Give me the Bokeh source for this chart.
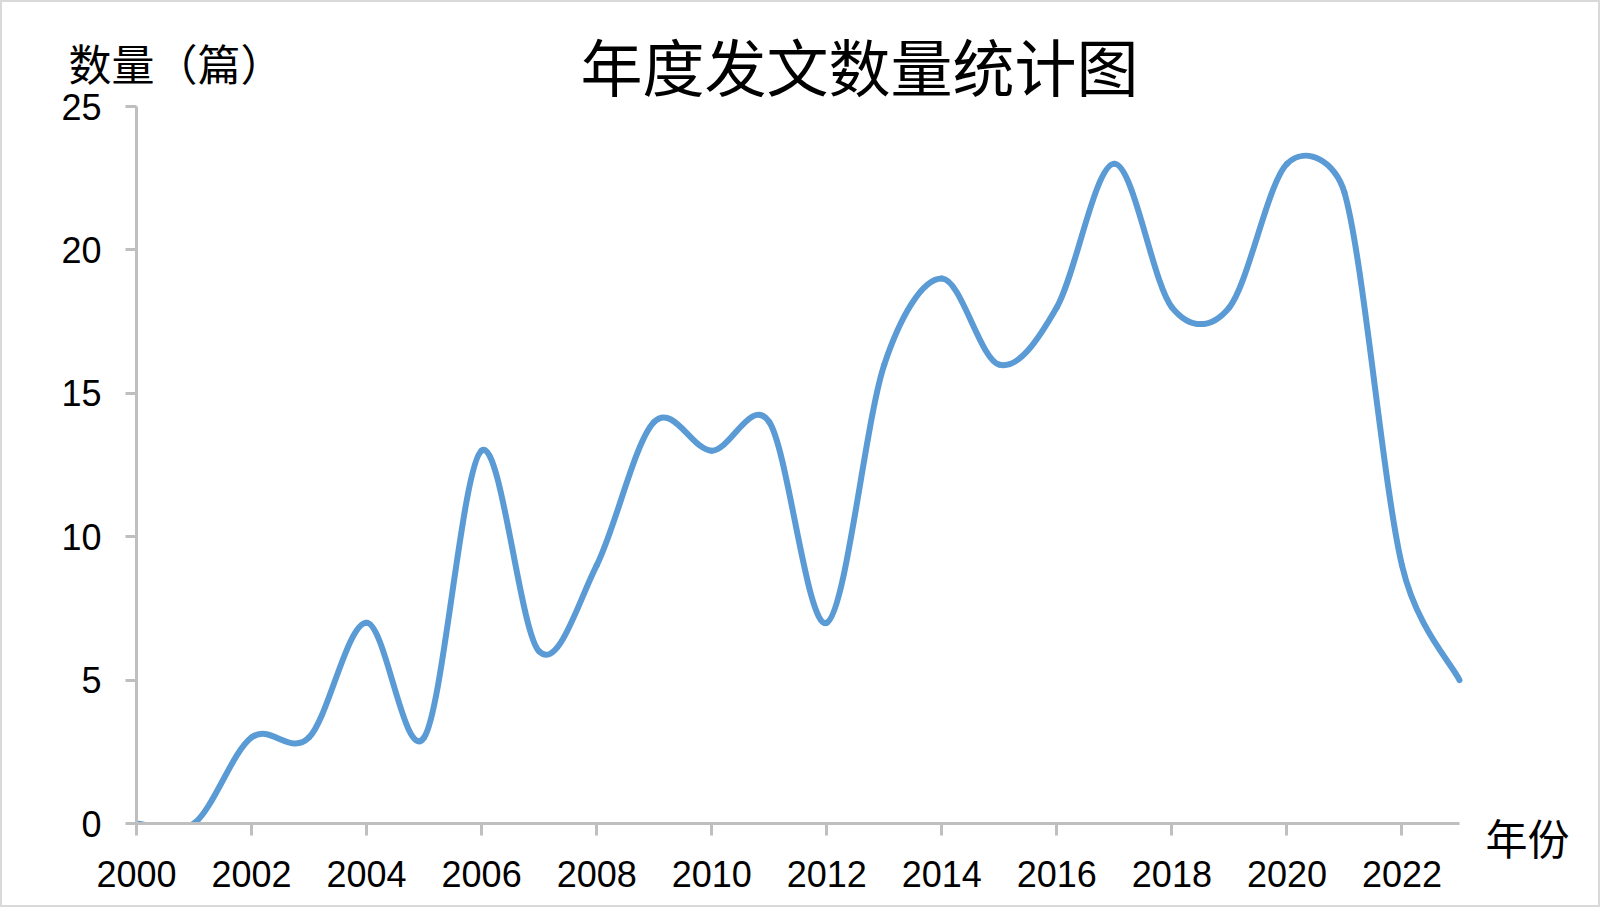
import math
from bokeh.plotting import figure
from bokeh.layouts import column
from bokeh.models import ColumnDataSource, Range1d, FixedTicker, Label
from bokeh.embed import file_html
from bokeh.resources import INLINE

# ---- data ----
years = list(range(2000, 2024))
counts = [0, 0, 3, 3, 7, 3, 13, 6, 9, 14, 13, 14, 7, 16, 19, 16, 18, 23, 18, 18, 23, 22, 9, 5]
x_ticks = list(range(2000, 2023, 2))
y_ticks = [0, 5, 10, 15, 20, 25]
title_text = "年度发文数量统计图"
y_label_text = "数量（篇）"
x_label_text = "年份"

W, H = 1600, 907
AX_LEFT, AX_RIGHT, AX_TOP, AX_BOTTOM = 136, 1459, 106, 823   # pixel extent of the axes
PAD_R = 4                                                     # room for the line's round cap
X0, X1, Y0, Y1 = 2000, 2023, 0, 25
sx = (AX_RIGHT - AX_LEFT) / (X1 - X0)
sy = (AX_BOTTOM - AX_TOP) / (Y1 - Y0)

# ---- Excel-style smoothing: Bezier control points from neighbouring points ----
n = len(years)
P = [(years[i] * sx, counts[i] * sy) for i in range(n)]
def dist(a, b):
    return math.hypot(b[0] - a[0], b[1] - a[1])
cx0, cy0, cx1, cy1 = [], [], [], []
for i in range(n - 1):
    p0 = P[max(i - 1, 0)]; p1 = P[i]; p2 = P[i + 1]; p3 = P[min(i + 2, n - 1)]
    d02, d12, d13 = dist(p0, p2), dist(p1, p2), dist(p1, p3)
    f1 = 1 / 6 if d02 / 6 < d12 / 2 else d12 / (2 * d02)
    f2 = 1 / 6 if d13 / 6 < d12 / 2 else d12 / (2 * d13)
    cx0.append((p1[0] + f1 * (p2[0] - p0[0])) / sx)
    cy0.append((p1[1] + f1 * (p2[1] - p0[1])) / sy)
    cx1.append((p2[0] - f2 * (p3[0] - p1[0])) / sx)
    cy1.append((p2[1] - f2 * (p3[1] - p1[1])) / sy)
src = ColumnDataSource(dict(x0=years[:-1], y0=counts[:-1], x1=years[1:], y1=counts[1:],
                            cx0=cx0, cy0=cy0, cx1=cx1, cy1=cy1))

p = figure(width=W, height=H, output_backend="svg", toolbar_location=None,
           x_range=Range1d(X0, X1 + PAD_R / sx), y_range=Range1d(Y0, Y1),
           min_border_left=AX_LEFT, min_border_right=W - AX_RIGHT - PAD_R,
           min_border_top=AX_TOP, min_border_bottom=H - AX_BOTTOM)
p.background_fill_color = "white"
p.border_fill_color = "white"
p.outline_line_color = None
p.xgrid.visible = False
p.ygrid.visible = False

p.bezier(x0="x0", y0="y0", x1="x1", y1="y1", cx0="cx0", cy0="cy0", cx1="cx1", cy1="cy1",
         source=src, line_color="#5b9bd5", line_width=6, line_cap="round")

for ax, ticks in ((p.xaxis, x_ticks), (p.yaxis, y_ticks)):
    ax.ticker = FixedTicker(ticks=ticks)
    ax.axis_line_color = "#bfbfbf"
    ax.axis_line_width = 3
    ax.major_tick_line_color = "#bfbfbf"
    ax.major_tick_line_width = 3
    ax.major_tick_in = 0
    ax.minor_tick_line_color = None
    ax.major_label_text_font = "Liberation Sans"
    ax.major_label_text_font_size = "36px"
    ax.major_label_text_color = "#000000"
p.xaxis.bounds = (X0, X1)
p.xaxis.major_tick_out = 12
p.yaxis.major_tick_out = 11
p.xaxis.major_label_standoff = 25
p.yaxis.major_label_standoff = 24

# ---- overlay canvas (same size, transparent) for title and free-standing captions ----
q = figure(width=W, height=H, output_backend="svg", toolbar_location=None,
           x_range=Range1d(0, W), y_range=Range1d(0, H), min_border=0,
           x_axis_type=None, y_axis_type=None)
q.background_fill_alpha = 0
q.border_fill_alpha = 0
q.outline_line_color = "#d9d9d9"
q.outline_line_width = 3
q.margin = (-H, 0, 0, 0)
for fig in (p, q):
    if "frame_align" in fig.properties():
        fig.frame_align = False

cjk = "Noto Sans CJK SC"
q.add_layout(Label(x=859, y=H - 64, text=title_text, text_font=cjk, text_font_size="62px",
                   text_align="center", text_baseline="middle", text_color="#000000"))
q.add_layout(Label(x=68, y=H - 61, text=y_label_text, text_font=cjk, text_font_size="43px",
                   text_align="left", text_baseline="middle", text_color="#000000"))
q.add_layout(Label(x=1527, y=H - 836, text=x_label_text, text_font=cjk, text_font_size="42px",
                   text_align="center", text_baseline="middle", text_color="#000000"))

open("out.html", "w").write(file_html(column(p, q), INLINE))
